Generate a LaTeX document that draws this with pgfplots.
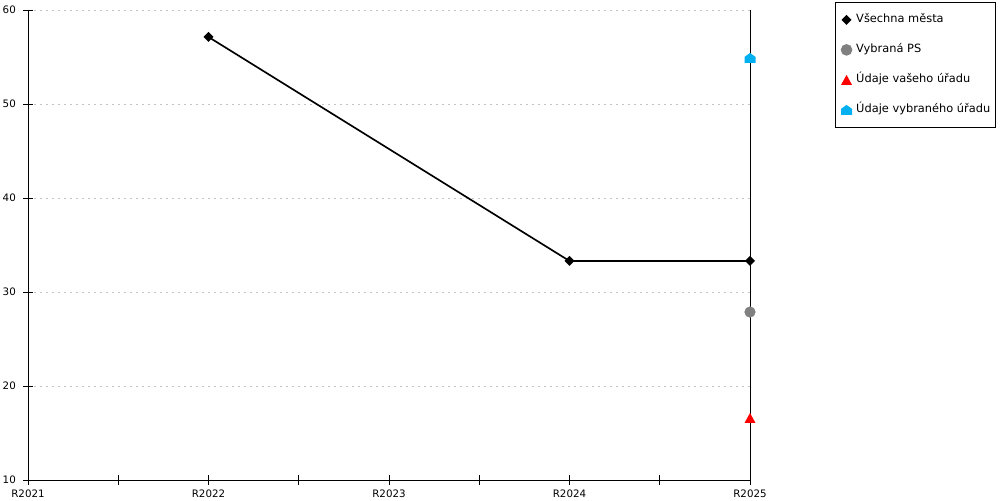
\documentclass[border=0pt]{standalone}
\usepackage{fontspec}
\setmainfont{DejaVu Sans}
\usepackage{pgfplots}
\pgfplotsset{compat=1.18}

\definecolor{sgrey}{HTML}{808080}
\definecolor{sred}{HTML}{FF0000}
\definecolor{sblue}{HTML}{00B0F0}
\definecolor{gridc}{HTML}{C4C4C4}

% vyplnene znacky
\pgfdeclareplotmark{kosoctverec}{%
  \pgfpathmoveto{\pgfqpoint{0pt}{\pgfplotmarksize}}%
  \pgfpathlineto{\pgfqpoint{\pgfplotmarksize}{0pt}}%
  \pgfpathlineto{\pgfqpoint{0pt}{-\pgfplotmarksize}}%
  \pgfpathlineto{\pgfqpoint{-\pgfplotmarksize}{0pt}}%
  \pgfpathclose\pgfusepathqfill}
\pgfdeclareplotmark{trojuhelnik}{%
  \pgfpathmoveto{\pgfqpoint{0pt}{\pgfplotmarksize}}%
  \pgfpathlineto{\pgfqpoint{1.1\pgfplotmarksize}{-\pgfplotmarksize}}%
  \pgfpathlineto{\pgfqpoint{-1.1\pgfplotmarksize}{-\pgfplotmarksize}}%
  \pgfpathclose\pgfusepathqfill}
\pgfdeclareplotmark{domek}{%
  \pgfpathmoveto{\pgfqpoint{0pt}{\pgfplotmarksize}}%
  \pgfpathlineto{\pgfqpoint{1.1\pgfplotmarksize}{0.2\pgfplotmarksize}}%
  \pgfpathlineto{\pgfqpoint{1.1\pgfplotmarksize}{-\pgfplotmarksize}}%
  \pgfpathlineto{\pgfqpoint{-1.1\pgfplotmarksize}{-\pgfplotmarksize}}%
  \pgfpathlineto{\pgfqpoint{-1.1\pgfplotmarksize}{0.2\pgfplotmarksize}}%
  \pgfpathclose\pgfusepathqfill}

\begin{document}
\begin{tikzpicture}[x=0.72pt,y=0.72pt]
\useasboundingbox (0,0) rectangle (1000,500);
\begin{axis}[
    at={(20.16pt,14.4pt)}, anchor=south west,
    scale only axis,
    width=519.84pt, height=338.4pt,
    xmin=0, xmax=4, ymin=10, ymax=60,
    axis lines=left,
    axis line style={-, black, line width=0.72pt},
    xtick={0,0.5,...,4},
    xticklabels={R2021,,R2022,,R2023,,R2024,,R2025},
    ytick={10,20,...,60},
    tick align=center,
    major tick length=6.5pt,
    tick style={black, line width=0.72pt},
    ymajorgrids,
    grid style={gridc, line width=0.72pt, dash pattern=on 1.44pt off 2.88pt},
    tick label style={font=\fontsize{7.4}{9}\selectfont},
    y tick label style={xshift=-2pt},
    x tick label style={yshift=-0.5pt},
    /pgf/number format/assume math mode=true,
    clip=false,
    legend cell align=left,
    legend image code/.code={\draw[#1] plot coordinates {(0pt,0pt)};},
    legend style={
        at={(1.1177,1.017)}, anchor=north west,
        draw=black, line width=0.72pt,
        font=\fontsize{8.2}{10}\selectfont,
        inner xsep=4pt, inner ysep=8.5pt,
        row sep=13.6pt,
        nodes={inner sep=0pt, text height=6.2pt, text depth=1.8pt},
        /tikz/every odd column/.append style={column sep=3pt},
    },
]
\addplot[black, line width=1.2pt, mark=kosoctverec, mark size=3.6pt]
    coordinates {(1,57.13) (3,33.3) (4,33.3)};
\addlegendentry{Všechna města}
\addplot[only marks, sgrey, mark=*, mark size=3.8pt]
    coordinates {(4,27.87)};
\addlegendentry{Vybraná PS}
\addplot[only marks, sred, mark=trojuhelnik, mark size=3.6pt]
    coordinates {(4,16.6)};
\addlegendentry{Údaje vašeho úřadu}
\addplot[only marks, sblue, mark=domek, mark size=3.6pt]
    coordinates {(4,54.9)};
\addlegendentry{Údaje vybraného úřadu}
\draw[black, line width=0.72pt] (axis cs:4,10) -- (axis cs:4,60);
\end{axis}
\end{tikzpicture}
\end{document}
